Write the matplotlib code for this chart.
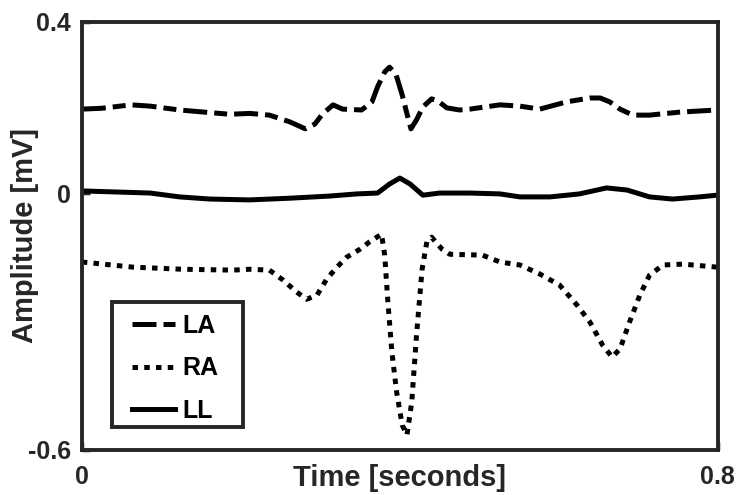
import matplotlib.pyplot as plt
from matplotlib.patches import Rectangle

plt.rcParams['font.family'] = ['Liberation Sans', 'DejaVu Sans']
plt.rcParams['font.weight'] = 'bold'

# LA (dashed)
t_la = [0.0, 0.025, 0.062, 0.086, 0.123, 0.148, 0.186, 0.211, 0.236, 0.262, 0.281,
        0.293, 0.303, 0.316, 0.328, 0.352, 0.365, 0.372, 0.381, 0.387, 0.395,
        0.403, 0.409, 0.414, 0.421, 0.429, 0.440, 0.448, 0.459, 0.475, 0.488,
        0.526, 0.551, 0.576, 0.610, 0.639, 0.652, 0.664, 0.677, 0.693, 0.714,
        0.752, 0.799]
v_la = [0.196, 0.198, 0.206, 0.203, 0.194, 0.190, 0.184, 0.186, 0.182, 0.166, 0.150,
        0.161, 0.185, 0.206, 0.196, 0.194, 0.213, 0.248, 0.283, 0.294, 0.278,
        0.229, 0.185, 0.150, 0.171, 0.201, 0.220, 0.215, 0.199, 0.194, 0.196,
        0.206, 0.203, 0.196, 0.213, 0.222, 0.222, 0.213, 0.196, 0.182, 0.182,
        0.189, 0.194]

# RA (dotted)
t_ra = [0.0, 0.064, 0.127, 0.190, 0.211, 0.236, 0.253, 0.270, 0.283, 0.296, 0.308,
        0.321, 0.333, 0.350, 0.362, 0.377, 0.381, 0.385, 0.390, 0.396, 0.403,
        0.409, 0.415, 0.421, 0.428, 0.434, 0.440, 0.453, 0.463, 0.504, 0.526,
        0.551, 0.576, 0.601, 0.623, 0.639, 0.655, 0.667, 0.677, 0.689, 0.702,
        0.714, 0.731, 0.756, 0.799]
v_ra = [-0.161, -0.173, -0.178, -0.180, -0.178, -0.180, -0.203, -0.231, -0.248, -0.238, -0.201,
        -0.173, -0.150, -0.131, -0.114, -0.096, -0.145, -0.255, -0.371, -0.465, -0.542,
        -0.565, -0.488, -0.332, -0.178, -0.114, -0.103, -0.131, -0.143, -0.145, -0.161,
        -0.168, -0.189, -0.215, -0.262, -0.301, -0.355, -0.383, -0.364, -0.301, -0.238,
        -0.192, -0.168, -0.166, -0.173]

# LL (solid)
t_ll = [0.0, 0.086, 0.123, 0.161, 0.211, 0.262, 0.312, 0.346, 0.372, 0.387, 0.400,
        0.413, 0.429, 0.450, 0.488, 0.526, 0.551, 0.589, 0.626, 0.660, 0.686,
        0.714, 0.743, 0.777, 0.799]
v_ll = [0.005, 0.000, -0.009, -0.014, -0.016, -0.012, -0.007, -0.002, 0.000, 0.021, 0.035,
        0.021, -0.005, 0.000, 0.000, -0.002, -0.009, -0.009, -0.002, 0.012, 0.007,
        -0.009, -0.014, -0.009, -0.005]

dark = '#262626'

fig = plt.figure(figsize=(7.37, 4.95), dpi=100)
ax = fig.add_axes([0.111, 0.091, 0.863, 0.865])

ax.plot(t_la, v_la, color='black', lw=3.6, linestyle=(0, (4.8, 1.4, 2.6, 1.4)),
        label='LA', solid_joinstyle='round')
ax.plot(t_ra, v_ra, color='black', lw=3.6, linestyle=(0, (1.1, 1.25)), label='RA')
ax.plot(t_ll, v_ll, color='black', lw=3.6, linestyle='-', label='LL',
        solid_joinstyle='round')

ax.set_xlim(0, 0.8)
ax.set_ylim(-0.6, 0.4)
ax.set_xticks([0, 0.8])
ax.set_xticklabels(['0', '0.8'])
ax.set_yticks([-0.6, 0, 0.4])
ax.set_yticklabels(['-0.6', '0', '0.4'])
ax.tick_params(direction='in', length=6, width=2.5, color=dark, labelsize=18,
               labelcolor=dark, pad=8)
ax.tick_params(axis='x', pad=11)
for s in ax.spines.values():
    s.set_linewidth(2.8)
    s.set_color(dark)

ax.set_xlabel('Time [seconds]', fontsize=21, fontweight='bold', color=dark)
ax.set_ylabel('Amplitude [mV]', fontsize=21, fontweight='bold', color=dark)
ax.xaxis.label.set_va('center')
ax.yaxis.label.set_va('center')
ax.xaxis.set_label_coords(0.5, -0.066)
ax.yaxis.set_label_coords(-0.09, 0.5)

# legend frame drawn separately
ax.add_patch(Rectangle((0.0472, 0.0526), 0.206, 0.292, transform=ax.transAxes,
                       facecolor='white', edgecolor=dark, lw=2.8, zorder=5))
leg = ax.legend(loc='upper left', bbox_to_anchor=(0.0786, 0.318), fontsize=18,
                frameon=False, handlelength=1.72, handletextpad=0.32,
                labelspacing=0.74, borderpad=0, borderaxespad=0)
leg.set_zorder(6)
for txt in leg.get_texts():
    txt.set_fontweight('bold')

fig.savefig('out.png', dpi=100)
